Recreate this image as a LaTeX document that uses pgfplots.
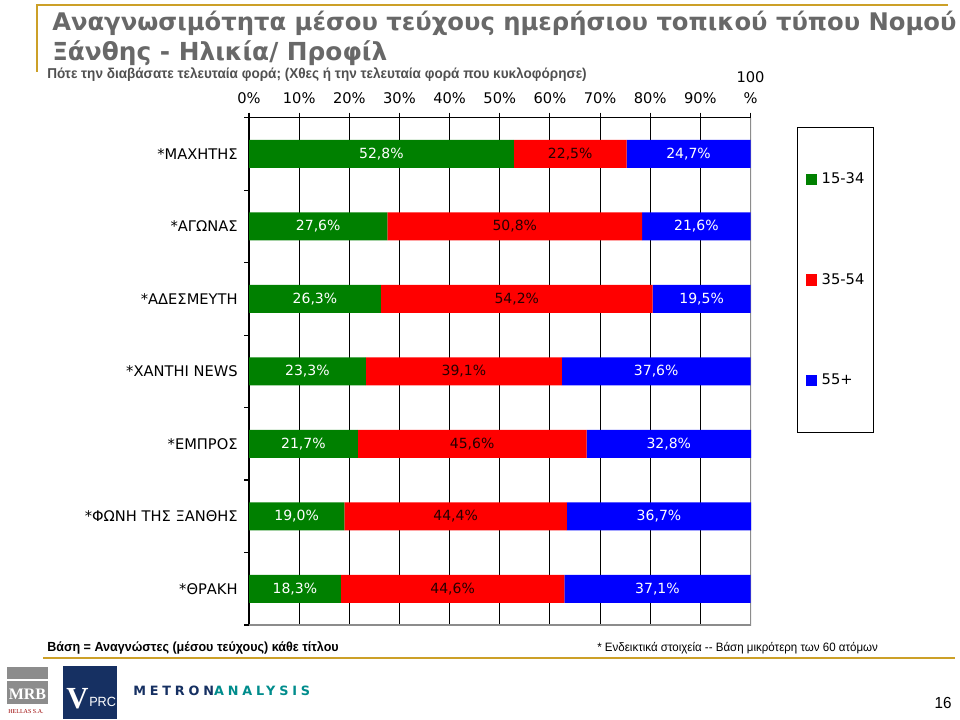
\documentclass[border=0pt]{standalone}
\usepackage{fontspec}
\usepackage{pgfplots}
\usepackage{pgfplotstable}
\pgfplotsset{compat=1.18}
\setmainfont{DejaVu Sans}
\newfontfamily\narrow[FakeStretch=0.95]{Liberation Sans}
\newfontfamily\logofont[LetterSpace=30]{DejaVu Sans}
\newfontfamily\serifbold{Liberation Serif}
\definecolor{gold}{RGB}{204,160,40}
\definecolor{titlegray}{RGB}{104,104,104}
\definecolor{subgray}{RGB}{80,80,80}
\definecolor{navy}{RGB}{22,48,98}
\definecolor{tealB}{RGB}{0,140,140}
\definecolor{barG}{RGB}{0,128,0}
\definecolor{barR}{RGB}{255,0,0}
\definecolor{barB}{RGB}{0,0,255}

% readership by age group, top row first
\pgfplotstableread{
pos young middle old
0 52.8 22.5 24.7
1 27.6 50.8 21.6
2 26.3 54.2 19.5
3 23.3 39.1 37.6
4 21.7 45.6 32.8
5 19.0 44.4 36.7
6 18.3 44.6 37.1
}\readership

\begin{document}
\begin{tikzpicture}
\begin{scope}[x=0.75pt,y=-0.75pt]
\clip (0,0) rectangle (960,719);
\path (0,0) rectangle (960,719);
% header
\draw[gold,line width=1.8pt] (37,5) -- (948,5);
\draw[gold,line width=1.8pt] (37,4) -- (37,72);
\node[anchor=base west,inner sep=0pt,text=titlegray,font=\bfseries\fontsize{18.2}{20}\selectfont] at (52,30)
  {Αναγνωσιμότητα μέσου τεύχους ημερήσιου τοπικού τύπου Νομού};
\node[anchor=base west,inner sep=0pt,text=titlegray,font=\bfseries\fontsize{18.6}{20}\selectfont] at (52,60)
  {Ξάνθης - Ηλικία/ Προφίλ};
\node[anchor=base west,inner sep=0pt,text=subgray,font=\narrow\bfseries\fontsize{10.7}{12}\selectfont] at (47,78)
  {Πότε την διαβάσατε τελευταία φορά; (Χθες ή την τελευταία φορά που κυκλοφόρησε)};
% footer
\node[anchor=base west,inner sep=0pt,font=\narrow\bfseries\fontsize{9.9}{11}\selectfont] at (47,651)
  {Βάση = Αναγνώστες (μέσου τεύχους) κάθε τίτλου};
\node[anchor=base west,inner sep=0pt,font=\narrow\fontsize{9.1}{11}\selectfont] at (597,651)
  {* Ενδεικτικά στοιχεία -- Βάση μικρότερη των 60 ατόμων};
\draw[gold,line width=1.8pt] (43,658) -- (955,658);
\node[anchor=base,inner sep=0pt,font=\narrow\fontsize{12}{14}\selectfont] at (943,708) {16};
% logos
\fill[black!45] (7,667) rectangle (48,679);
\fill[black!45] (7,681) rectangle (48,704);
\node[inner sep=0pt,text=white,font=\serifbold\bfseries\fontsize{12}{14}\selectfont] at (27.5,694) {MRB};
\node[inner sep=0pt,text=red!60!black,font=\serifbold\fontsize{4.5}{5}\selectfont] at (26,712) {HELLAS S.A.};
\fill[navy] (63,666) rectangle (117,719);
\node[anchor=base west,inner sep=0pt,text=white,font=\serifbold\bfseries\fontsize{23}{25}\selectfont] at (66,708) {V};
\node[anchor=base west,inner sep=0pt,text=white,font=\narrow\fontsize{10}{12}\selectfont] at (89,706) {PRC};
\node[anchor=west,inner sep=0pt,font=\logofont\bfseries\fontsize{9.6}{11}\selectfont] at (133,691)
  {\textcolor{navy}{METRON}\textcolor{tealB}{ANALYSIS}};
\end{scope}

\begin{axis}[
  at={(186.75pt,-468.75pt)}, anchor=south west,
  width=376.5pt, height=380.6pt, scale only axis,
  xbar stacked, bar width=0.386,
  xmin=0, xmax=100.1, ymin=-0.5, ymax=6.5, y dir=reverse,
  axis line style={draw=none},
  tick align=outside, major tick length=3.75pt,
  tick style={black, line width=0.8pt},
  xtick={0,10,...,100}, xtick pos=upper, xticklabel pos=upper,
  xticklabels={0\%,10\%,20\%,30\%,40\%,50\%,60\%,70\%,80\%,90\%,{100\\\%}},
  xticklabel style={align=center, font=\fontsize{11}{15.5}\selectfont, yshift=3pt},
  xmajorgrids, grid style={black, line width=0.8pt},
  ytick={-0.5,0.5,...,6.5}, ytick pos=left, yticklabels={},
  extra y ticks={0,1,2,3,4,5,6},
  extra y tick labels={*ΜΑΧΗΤΗΣ,*ΑΓΩΝΑΣ,*ΑΔΕΣΜΕΥΤΗ,*XANTHI NEWS,*ΕΜΠΡΟΣ,*ΦΩΝΗ ΤΗΣ ΞΑΝΘΗΣ,*ΘΡΑΚΗ},
  extra y tick style={major tick length=0pt, grid=none,
    yticklabel style={font=\fontsize{11}{13}\selectfont, xshift=-5pt}},
  /pgf/number format/assume math mode=true,
  visualization depends on=rawx \as \rawx,
  nodes near coords={\pgfmathprintnumber[fixed,fixed zerofill,precision=1,use comma]{\rawx}\%},
  every node near coord/.append style={anchor=center, font=\fontsize{10.5}{12}\selectfont},
  legend style={at={(1.0916,0.9813)}, anchor=north west, draw=black, line width=0.9pt,
    inner xsep=6pt, inner ysep=33pt, row sep=63.4pt, font=\fontsize{11}{13}\selectfont,
    nodes={inner sep=1pt, text height=8pt, text depth=2pt},
    /tikz/every odd column/.append style={column sep=2.5pt}},
  legend cell align=left,
  legend image code/.code={\fill[#1,draw=none] (0pt,-4.2pt) rectangle (8.6pt,4.4pt);},
]
\addplot[fill=barG, draw=none, every node near coord/.append style={text=white}] table[x=young,y=pos]{\readership};
\addlegendentry{15-34}
\addplot[fill=barR, draw=none, every node near coord/.append style={text=black!85!red}] table[x=middle,y=pos]{\readership};
\addlegendentry{35-54}
\addplot[fill=barB, draw=none, every node near coord/.append style={text=white}] table[x=old,y=pos]{\readership};
\addlegendentry{55+}
\draw[black!45, line width=0.8pt] (axis description cs:0,0) -- (axis description cs:1,0) -- (axis description cs:1,1);
\draw[black, line width=0.8pt] (axis description cs:0,0) -- (axis description cs:0,1) -- (axis description cs:1,1);
\end{axis}
\end{tikzpicture}
\end{document}
